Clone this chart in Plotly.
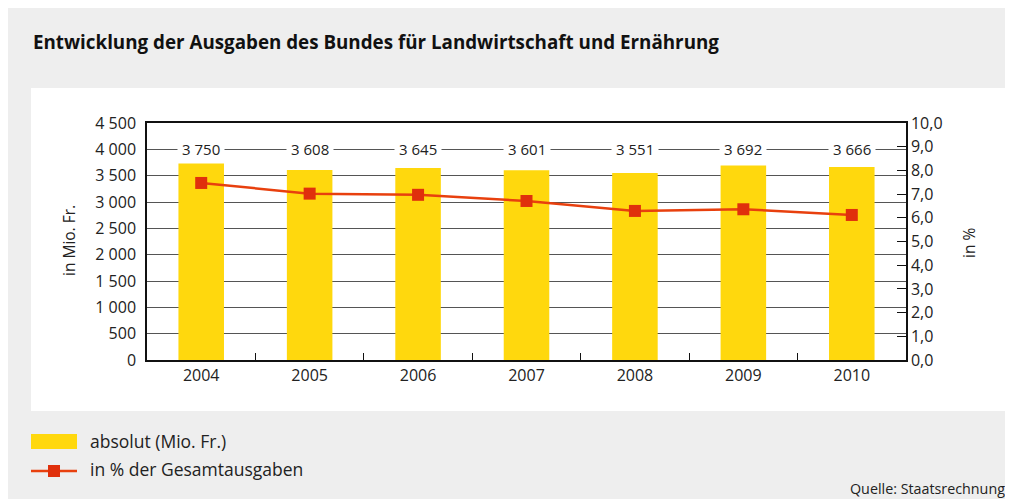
import plotly.graph_objects as go

# ---- data ----
years = ["2004", "2005", "2006", "2007", "2008", "2009", "2010"]
absolut = [3750, 3608, 3645, 3601, 3551, 3692, 3666]
anteil = [7.47, 7.02, 6.97, 6.71, 6.29, 6.36, 6.12]
left_ticks = [0, 500, 1000, 1500, 2000, 2500, 3000, 3500, 4000, 4500]
right_ticks = [0, 1, 2, 3, 4, 5, 6, 7, 8, 9, 10]

title = "Entwicklung der Ausgaben des Bundes für Landwirtschaft und Ernährung"
source = "Quelle: Staatsrechnung"
legend_bar = "absolut (Mio. Fr.)"
legend_line = "in % der Gesamtausgaben"

# ---- layout constants (page pixels; the page body has an 8px margin) ----
W, H = 1013, 499
OFF = 8
L, R, T, B = 147, 906, 123, 360
PW, PH = R - L, B - T
FONT = "Open Sans"
TXT = "#222222"
YELLOW = "#FFD80D"
RED_LINE = "#E8400E"
RED_MARK = "#E0300C"


def px(x):
    return (x - L) / PW


def py(y):
    return (B - y) / PH


fig = go.Figure()
fig.add_trace(go.Bar(x=years, y=absolut, width=0.42, marker=dict(color=YELLOW, line=dict(width=0)),
                     name=legend_bar, hoverinfo="skip"))
fig.add_trace(go.Scatter(x=years, y=anteil, yaxis="y2", mode="lines+markers",
                         line=dict(color=RED_LINE, width=2.5),
                         marker=dict(symbol="square", size=12, color=RED_MARK),
                         name=legend_line, hoverinfo="skip"))

shapes = [
    dict(type="rect", xref="paper", yref="paper", x0=px(31), x1=px(1007), y0=py(411), y1=py(88),
         fillcolor="#FFFFFF", line=dict(width=0), layer="below"),
    # legend swatches
    dict(type="rect", xref="paper", yref="paper", x0=px(31), x1=px(77), y0=py(449), y1=py(434),
         fillcolor=YELLOW, line=dict(width=0)),
    dict(type="line", xref="paper", yref="paper", x0=px(31), x1=px(77), y0=py(471), y1=py(471),
         line=dict(color=RED_LINE, width=2.5)),
    dict(type="rect", xref="paper", yref="paper", x0=px(48), x1=px(60), y0=py(477), y1=py(465),
         fillcolor=RED_MARK, line=dict(width=0)),
]

annotations = []
for i, v in enumerate(absolut):
    annotations.append(dict(x=i, y=4000, xref="x", yref="y", text=f"{v:,}".replace(",", " "),
                            showarrow=False, bgcolor="#FFFFFF", borderpad=4,
                            font=dict(family=FONT, size=15, color=TXT)))

annotations += [
    dict(x=px(31), y=py(42), xref="paper", yref="paper", xanchor="left", yanchor="middle",
         text="<b>" + title + "</b>", showarrow=False, font=dict(family=FONT, size=18.8, color="#111111")),
    dict(x=px(69), y=py(241), xref="paper", yref="paper", xanchor="center", yanchor="middle",
         text="in Mio. Fr.", textangle=-90,
         showarrow=False, font=dict(family=FONT, size=15.5, color=TXT)),
    dict(x=px(969), y=py(243), xref="paper", yref="paper", xanchor="center", yanchor="middle",
         text="in %", textangle=-90,
         showarrow=False, font=dict(family=FONT, size=15.5, color=TXT)),
    dict(x=px(88), y=py(441), xref="paper", yref="paper", xanchor="left", yanchor="middle",
         text=legend_bar, showarrow=False, font=dict(family=FONT, size=17.5, color=TXT)),
    dict(x=px(88), y=py(469), xref="paper", yref="paper", xanchor="left", yanchor="middle",
         text=legend_line, showarrow=False, font=dict(family=FONT, size=17.5, color=TXT)),
    dict(x=px(1007), y=py(488), xref="paper", yref="paper", xanchor="right", yanchor="middle",
         text=source, showarrow=False, font=dict(family=FONT, size=14.3, color=TXT)),
]

fig.update_layout(
    width=W - OFF, height=H - OFF,
    margin=dict(l=L - OFF, r=W - R, t=T - OFF, b=H - B, pad=0),
    paper_bgcolor="#EEEEEE", plot_bgcolor="#FFFFFF",
    separators=", ",
    showlegend=False,
    font=dict(family=FONT, size=16, color=TXT),
    shapes=shapes, annotations=annotations,
    xaxis=dict(type="category", categoryorder="array", categoryarray=years, range=[-0.5, 6.5],
               showline=True, linecolor="#111111", linewidth=1.5, mirror=True,
               showgrid=False, ticks="inside", tickson="boundaries", ticklen=7, tickcolor="#111111",
               tickangle=0, tickfont=dict(family=FONT, size=16, color=TXT), fixedrange=True),
    yaxis=dict(range=[0, 4500], tickvals=left_ticks, tickformat=",d", showline=True,
               linecolor="#111111", linewidth=1.5, showgrid=True, gridcolor="#555555", gridwidth=1,
               ticks="", zeroline=False, tickfont=dict(family=FONT, size=16, color=TXT),
               ticklabelstandoff=6, fixedrange=True),
    yaxis2=dict(range=[0, 10], tickvals=right_ticks, tickformat=".1f", overlaying="y", side="right",
                showline=True, linecolor="#111111", linewidth=1.5, showgrid=False, zeroline=False,
                ticks="inside", ticklen=9, tickcolor="#111111",
                tickfont=dict(family=FONT, size=16, color=TXT), fixedrange=True),
)

fig.write_html("out.html")
